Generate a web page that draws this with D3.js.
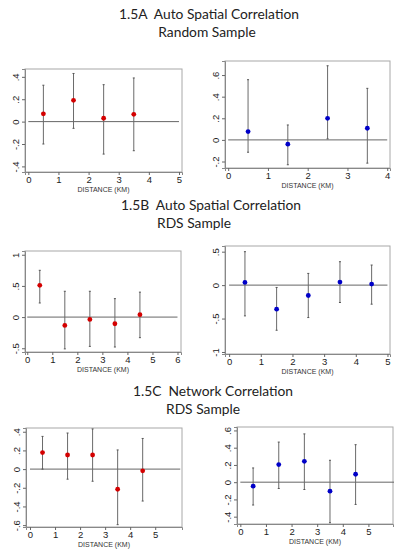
<!DOCTYPE html>
<html lang="en">
<head>
<meta charset="UTF-8">
<title>Spatial and Network Correlation</title>
<script src="https://d3js.org/d3.v7.min.js"></script>
<style>
  body { margin: 0; background: #fff; }
  .title { font-family: Lato, "Open Sans", sans-serif; font-size: 13.8px; fill: #222; white-space: pre; }
  .tick text { font-family: "Liberation Sans", Arial, sans-serif; font-size: 9.5px; fill: #222; }
  .xtitle { font-family: "Liberation Sans", Arial, sans-serif; font-size: 7px; fill: #333; }
</style>
</head>
<body>
<svg id="chart" width="399" height="552"></svg>
<script>
// distances (km)
const dist4 = [0.5, 1.5, 2.5, 3.5];
const dist5 = [0.5, 1.5, 2.5, 3.5, 4.5];

// 1.5A random sample
const a1Est = [0.07, 0.19, 0.03, 0.065];
const a1Lo  = [-0.20, -0.06, -0.29, -0.26];
const a1Hi  = [0.325, 0.43, 0.33, 0.39];
const a2Est = [0.077, -0.04, 0.20, 0.108];
const a2Lo  = [-0.114, -0.23, 0.01, -0.215];
const a2Hi  = [0.557, 0.138, 0.686, 0.477];

// 1.5B RDS sample
const b1Est = [0.51, -0.134, -0.038, -0.107, 0.038];
const b1Lo  = [0.226, -0.51, -0.47, -0.48, -0.33];
const b1Hi  = [0.75, 0.414, 0.414, 0.296, 0.40];
const b2Est = [0.04, -0.36, -0.155, 0.045, 0.015];
const b2Lo  = [-0.46, -0.675, -0.485, -0.26, -0.285];
const b2Hi  = [0.5, -0.035, 0.175, 0.35, 0.30];

// 1.5C network correlation
const c1Est = [0.177, 0.151, 0.151, -0.216, -0.018];
const c1Lo  = [0.0, -0.108, -0.13, -0.595, -0.342];
const c1Hi  = [0.35, 0.386, 0.43, 0.205, 0.328];
const c2Est = [-0.046, 0.204, 0.242, -0.104, 0.092];
const c2Lo  = [-0.265, -0.073, -0.085, -0.47, -0.258];
const c2Hi  = [0.165, 0.465, 0.56, 0.254, 0.435];

// tick values
const ticksY_a1 = [-0.4, -0.2, 0, 0.2, 0.4];
const ticksY_a2 = [-0.2, 0, 0.2, 0.4, 0.6];
const ticksY_b1 = [-0.5, 0, 0.5, 1];
const ticksY_b2 = [-1, -0.5, 0, 0.5];
const ticksY_c1 = [-0.6, -0.4, -0.2, 0, 0.2, 0.4];
const ticksY_c2 = [-0.4, -0.2, 0, 0.2, 0.4, 0.6];
const ticksX4 = [0, 1, 2, 3, 4];
const ticksX5 = [0, 1, 2, 3, 4, 5];
const ticksX6 = [0, 1, 2, 3, 4, 5, 6];

const titles = [
  ["1.5A  Auto Spatial Correlation", "Random Sample"],
  ["1.5B  Auto Spatial Correlation", "RDS Sample"],
  ["1.5C  Network Correlation", "RDS Sample"]
];

const svg = d3.select("#chart");

// title block positions
const titlePos = [
  {x1: 209, y1: 19, x2: 207, y2: 37},
  {x1: 211, y1: 210, x2: 194, y2: 228},
  {x1: 213, y1: 396, x2: 203, y2: 414}
];
titles.forEach((t, i) => {
  const tp = titlePos[i];
  svg.append("text").attr("class", "title").attr("x", tp.x1).attr("y", tp.y1)
    .attr("text-anchor", "middle").text(t[0]);
  svg.append("text").attr("class", "title").attr("x", tp.x2).attr("y", tp.y2)
    .attr("text-anchor", "middle").text(t[1]);
});

const panels = [
  {box: [25, 69, 182, 172], xd: [-0.11, 5.1], yd: [-0.45, 0.47], xt: ticksX5, yt: ticksY_a1, lineEnd: 5,
   d: dist4, est: a1Est, lo: a1Lo, hi: a1Hi, color: "#d40000"},
  {box: [225, 61, 390, 168], xd: [-0.08, 4.07], yd: [-0.26, 0.73], xt: ticksX4, yt: ticksY_a2, lineEnd: 4,
   d: dist4, est: a2Est, lo: a2Lo, hi: a2Hi, color: "#0000c8"},
  {box: [25, 251, 181, 352], xd: [-0.09, 6.14], yd: [-0.56, 1.06], xt: ticksX6, yt: ticksY_b1, lineEnd: 6,
   d: dist5, est: b1Est, lo: b1Lo, hi: b1Hi, color: "#d40000"},
  {box: [225, 246, 390, 354], xd: [-0.13, 5.08], yd: [-1.03, 0.585], xt: ticksX5, yt: ticksY_b2, lineEnd: 5,
   d: dist5, est: b2Est, lo: b2Lo, hi: b2Hi, color: "#0000c8"},
  {box: [26, 428, 182, 527], xd: [-0.16, 6.07], yd: [-0.62, 0.44], xt: ticksX5, yt: ticksY_c1, lineEnd: 6,
   d: dist5, est: c1Est, lo: c1Lo, hi: c1Hi, color: "#d40000"},
  {box: [237, 427, 393, 524], xd: [-0.13, 5.96], yd: [-0.485, 0.64], xt: ticksX5, yt: ticksY_c2, lineEnd: 6,
   d: dist5, est: c2Est, lo: c2Lo, hi: c2Hi, color: "#0000c8"}
];

const fmt = v => v === 0 ? "0" : String(v).replace("0.", ".");

panels.forEach(p => {
  const [x0, y0, x1, y1] = p.box;
  const x = d3.scaleLinear().domain(p.xd).range([x0, x1]);
  const y = d3.scaleLinear().domain(p.yd).range([y1, y0]);
  const g = svg.append("g");

  // frame
  g.append("rect").attr("x", x0).attr("y", y0).attr("width", x1 - x0).attr("height", y1 - y0)
    .attr("fill", "none").attr("stroke", "#a8a8a8").attr("stroke-width", 1);

  // axes
  const xa = g.append("g").attr("transform", `translate(0,${y1})`)
    .call(d3.axisBottom(x).tickValues(p.xt).tickFormat(fmt).tickSize(3).tickPadding(1));
  xa.select(".domain").attr("stroke", "#888");
  xa.selectAll(".tick line").attr("stroke", "#666");

  const ya = g.append("g").attr("transform", `translate(${x0},0)`)
    .call(d3.axisLeft(y).tickValues(p.yt).tickFormat(fmt).tickSize(3));
  ya.select(".domain").attr("stroke", "#888");
  ya.selectAll(".tick line").attr("stroke", "#666");
  ya.selectAll(".tick text")
    .attr("x", null).attr("dy", null)
    .attr("text-anchor", "middle")
    .attr("transform", "translate(-6,0) rotate(-90)");

  g.append("text").attr("class", "xtitle")
    .attr("x", (x0 + x1) / 2).attr("y", y1 + 20).attr("text-anchor", "middle")
    .text("DISTANCE (KM)");

  // zero line
  g.append("line").attr("x1", x(0)).attr("x2", x(p.lineEnd)).attr("y1", y(0)).attr("y2", y(0))
    .attr("stroke", "#666").attr("stroke-width", 1);

  const rows = p.d.map((d, i) => ({d, est: p.est[i], lo: p.lo[i], hi: p.hi[i]}));

  // confidence intervals
  g.selectAll(".ci").data(rows).join("line")
    .attr("x1", r => x(r.d)).attr("x2", r => x(r.d))
    .attr("y1", r => y(r.lo)).attr("y2", r => y(r.hi))
    .attr("stroke", "#6a6a6a").attr("stroke-width", 1);
  ["lo", "hi"].forEach(k => {
    g.selectAll(".cap-" + k).data(rows).join("line")
      .attr("x1", r => x(r.d) - 1).attr("x2", r => x(r.d) + 1)
      .attr("y1", r => y(r[k])).attr("y2", r => y(r[k]))
      .attr("stroke", "#555").attr("stroke-width", 1);
  });

  // point estimates
  g.selectAll(".pt").data(rows).join("circle")
    .attr("cx", r => x(r.d)).attr("cy", r => y(r.est)).attr("r", 2.4)
    .attr("fill", p.color);
});
</script>
</body>
</html>
